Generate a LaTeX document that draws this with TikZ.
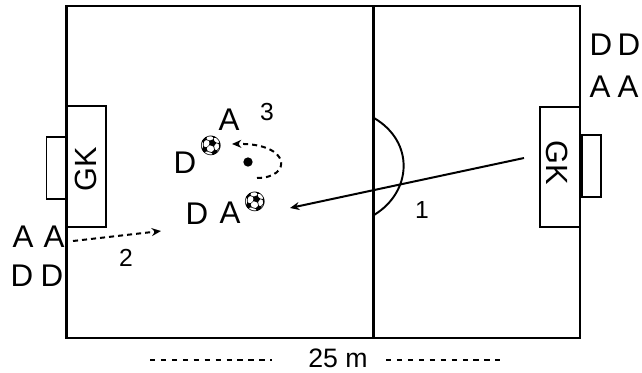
\documentclass[tikz,border=0pt]{standalone}
\usepackage{fontspec}
\setmainfont{Liberation Sans}
\newfontfamily\emojifont{Noto Emoji}
\usetikzlibrary{arrows.meta}
\tikzset{
  line/.style={draw=black,line width=1.55pt},
  thin box/.style={draw=black,line width=1.45pt},
  letter/.style={inner sep=0pt,font=\fontsize{23.5}{24}\selectfont},
  num/.style={inner sep=0pt,font=\fontsize{18.5}{19}\selectfont},
  gk/.style={inner sep=0pt,font=\fontsize{23}{23}\selectfont},
  ball/.style={inner sep=0pt,font=\emojifont\fontsize{14.5}{15}\selectfont},
  dashline/.style={draw=black,line width=1.5pt,dash pattern=on 3.8pt off 3pt},
  sparse/.style={draw=black,line width=1.2pt,dash pattern=on 4pt off 4.2pt},
  pass/.style={-{Stealth[length=7pt,width=6pt]}}
}
\begin{document}
\begin{tikzpicture}[x=0.75pt,y=-0.75pt]
\useasboundingbox (0,0) rectangle (642,372);
% pitch
\draw[line] (66.5,6) rectangle (580,338);
\draw[line] (373.5,6) -- (373.5,338);
% goal areas and goals
\draw[thin box] (67,106) rectangle (106,227);
\draw[thin box] (46.5,137) rectangle (66.5,199);
\draw[thin box] (540,107) rectangle (580,227);
\draw[thin box] (582,135) rectangle (601,197);
% centre arc
\draw[thin box] (374,118) .. controls (415,142) and (412,192) .. (374,215);
% labels
\node[gk,rotate=90] (gkl) at (86,169) {GK};
\node[gk,rotate=-90] (gkr) at (557,163) {GK};
\node[letter] (a1) at (229,120) {A};
\node[letter] (d1) at (185,163) {D};
\node[letter] (d2) at (197,214) {D};
\node[letter] (a2) at (230,213) {A};
\node[ball] (b1) at (211,146) {⚽};
\node[ball] (b2) at (255,202) {⚽};
\node[num] (n3) at (267,112) {3};
\node[num] (n1) at (422,210) {1};
\node[num] (n2) at (126,258) {2};
\node[letter] (la1) at (23,237) {A};
\node[letter] (la2) at (54,237) {A};
\node[letter] (ld1) at (22,276) {D};
\node[letter] (ld2) at (52,276) {D};
\node[letter] (rd1) at (601,45) {D};
\node[letter] (rd2) at (629,45) {D};
\node[letter] (ra1) at (600,87) {A};
\node[letter] (ra2) at (628,87) {A};
\node[inner sep=0pt,font=\fontsize{20}{20}\selectfont] (dist) at (338,358.5) {25 m};
% player
\node[circle,fill=black,inner sep=0pt,minimum size=7pt] (dot) at (248,162) {};
% connectors
\coordinate (p1s) at (524,158);
\coordinate (p1e) at (290,208);
\coordinate (p2s) at (73,241);
\coordinate (p2e) at (161,231);
\coordinate (p3s) at (257,178);
\coordinate (p3e) at (232,144);
\coordinate (l1) at (150,360);
\coordinate (l2) at (272,360);
\coordinate (r1) at (386,360);
\coordinate (r2) at (500,360);
\draw[line width=1.5pt,pass] (p1s) -- (p1e);
\draw[dashline,pass] (p2s) -- (p2e);
\draw[dashline,pass] (p3s) .. controls (292,178) and (292,143) .. (p3e);
\draw[sparse] (l1) -- (l2);
\draw[sparse] (r1) -- (r2);
\end{tikzpicture}
\end{document}
